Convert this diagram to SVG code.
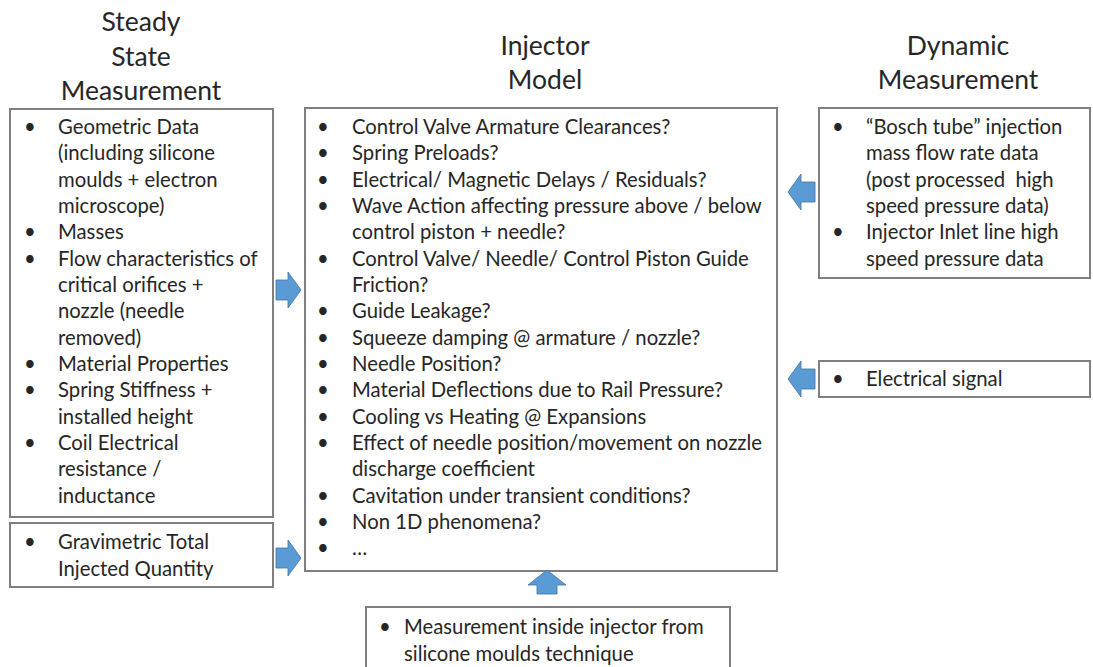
<svg xmlns="http://www.w3.org/2000/svg" width="1093" height="667" viewBox="0 0 1093 667">
  <style>
    .box { fill: #ffffff; stroke: #7f7f7f; stroke-width: 2; }
    .t { font-family: Lato, "Open Sans", sans-serif; font-size: 20.3px; fill: #262626; }
    .h { font-family: Lato, "Open Sans", sans-serif; font-size: 26.5px; fill: #262626; text-anchor: middle; }
    .arrow { fill: #5b9bd5; stroke: #41719c; stroke-width: 0.8; }
  </style>
  <rect width="1093" height="667" fill="#ffffff"/>

  <!-- column headings -->
  <g id="heading-steady">
    <text class="h" x="141" y="31">Steady</text>
    <text class="h" x="141" y="66">State</text>
    <text class="h" x="141" y="100">Measurement</text>
  </g>
  <g id="heading-model">
    <text class="h" x="545" y="55">Injector</text>
    <text class="h" x="545" y="89">Model</text>
  </g>
  <g id="heading-dynamic">
    <text class="h" x="958" y="55">Dynamic</text>
    <text class="h" x="958" y="89">Measurement</text>
  </g>

  <!-- steady state measurement list -->
  <g id="steady-state">
    <rect class="box" x="10" y="109" width="263" height="408"/>
    <g class="t">
      <text x="24" y="134">•</text><text x="58" y="134">Geometric Data</text>
      <text x="58" y="160">(including silicone</text>
      <text x="58" y="187">moulds + electron</text>
      <text x="58" y="213">microscope)</text>
      <text x="24" y="239">•</text><text x="58" y="239">Masses</text>
      <text x="24" y="266">•</text><text x="58" y="266">Flow characteristics of</text>
      <text x="58" y="292">critical orifices +</text>
      <text x="58" y="318">nozzle (needle</text>
      <text x="58" y="345">removed)</text>
      <text x="24" y="371">•</text><text x="58" y="371">Material Properties</text>
      <text x="24" y="397">•</text><text x="58" y="397">Spring Stiffness +</text>
      <text x="58" y="424">installed height</text>
      <text x="24" y="450">•</text><text x="58" y="450">Coil Electrical</text>
      <text x="58" y="476">resistance /</text>
      <text x="58" y="503">inductance</text>
    </g>
  </g>

  <g id="gravimetric">
    <rect class="box" x="10" y="523" width="263" height="64"/>
    <g class="t">
      <text x="24" y="549">•</text><text x="58" y="549">Gravimetric Total</text>
      <text x="58" y="576">Injected Quantity</text>
    </g>
  </g>

  <!-- injector model list -->
  <g id="injector-model">
    <rect class="box" x="305" y="108" width="472" height="463"/>
    <g class="t">
      <text x="317" y="134">•</text><text x="352" y="134">Control Valve Armature Clearances?</text>
      <text x="317" y="160">•</text><text x="352" y="160">Spring Preloads?</text>
      <text x="317" y="187">•</text><text x="352" y="187">Electrical/ Magnetic Delays / Residuals?</text>
      <text x="317" y="213">•</text><text x="352" y="213">Wave Action affecting pressure above / below</text>
      <text x="352" y="239">control piston + needle?</text>
      <text x="317" y="266">•</text><text x="352" y="266">Control Valve/ Needle/ Control Piston Guide</text>
      <text x="352" y="292">Friction?</text>
      <text x="317" y="318">•</text><text x="352" y="318">Guide Leakage?</text>
      <text x="317" y="345">•</text><text x="352" y="345">Squeeze damping @ armature / nozzle?</text>
      <text x="317" y="371">•</text><text x="352" y="371">Needle Position?</text>
      <text x="317" y="397">•</text><text x="352" y="397">Material Deflections due to Rail Pressure?</text>
      <text x="317" y="424">•</text><text x="352" y="424">Cooling vs Heating @ Expansions</text>
      <text x="317" y="450">•</text><text x="352" y="450">Effect of needle position/movement on nozzle</text>
      <text x="352" y="476">discharge coefficient</text>
      <text x="317" y="503">•</text><text x="352" y="503">Cavitation under transient conditions?</text>
      <text x="317" y="529">•</text><text x="352" y="529">Non 1D phenomena?</text>
      <text x="317" y="555">•</text><text x="352" y="555">…</text>
    </g>
  </g>

  <!-- dynamic measurement lists -->
  <g id="dynamic-measurement">
    <rect class="box" x="819" y="108" width="271" height="170"/>
    <g class="t">
      <text x="832" y="134">•</text><text x="866" y="134">“Bosch tube” injection</text>
      <text x="866" y="160">mass flow rate data</text>
      <text x="866" y="187" xml:space="preserve">(post processed  high</text>
      <text x="866" y="213">speed pressure data)</text>
      <text x="832" y="239">•</text><text x="866" y="239">Injector Inlet line high</text>
      <text x="866" y="266">speed pressure data</text>
    </g>
  </g>

  <g id="electrical-signal">
    <rect class="box" x="819" y="361" width="271" height="36"/>
    <g class="t">
      <text x="832" y="386">•</text><text x="866" y="386">Electrical signal</text>
    </g>
  </g>

  <!-- inside-injector measurement -->
  <g id="silicone-moulds">
    <rect class="box" x="366" y="607" width="364" height="70"/>
    <g class="t">
      <text x="379" y="634">•</text><text x="404" y="634">Measurement inside injector from</text>
      <text x="404" y="661">silicone moulds technique</text>
    </g>
  </g>

  <!-- block arrows into the model -->
  <g id="connectors">
    <path class="arrow" d="M276 280 H288 V272 L301 290 L288 308 V300 H276 Z"/>
    <path class="arrow" d="M276 548 H288 V540 L301 558 L288 576 V568 H276 Z"/>
    <path class="arrow" d="M815 182 H801 V174 L788 192 L801 210 V202 H815 Z"/>
    <path class="arrow" d="M815 369 H801 V361 L788 379 L801 397 V389 H815 Z"/>
    <path class="arrow" d="M537 594 V585 H528 L547 570 L566 585 H557 V594 Z"/>
  </g>
</svg>
